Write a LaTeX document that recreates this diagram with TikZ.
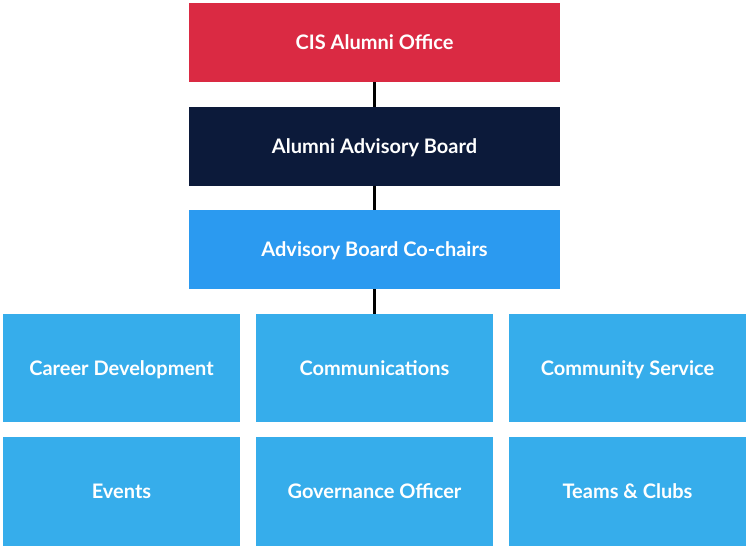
\documentclass[tikz,border=0pt]{standalone}
\usepackage{fontspec}
\setmainfont{Lato}
\definecolor{officered}{HTML}{DA2A43}
\definecolor{boardnavy}{HTML}{0C1A3A}
\definecolor{chairblue}{HTML}{2B9AF0}
\definecolor{teamblue}{HTML}{36ADEB}
\tikzset{
  unit/.style={fill=#1, text=white, inner sep=0pt, outer sep=0pt,
    text height=14pt, text depth=0pt,
    font=\fontsize{20}{24}\selectfont\bfseries},
  topunit/.style={unit=#1, minimum width=371pt, minimum height=79pt},
  team/.style={unit=teamblue, minimum width=237pt, minimum height=108.5pt},
  link/.style={line width=2.6pt, black}
}
\begin{document}
\begin{tikzpicture}[x=1pt,y=-1pt]
\useasboundingbox (0,0) rectangle (749,549);

\node[topunit=officered] (office) at (374.5,42.5) {CIS Alumni Office};
\node[topunit=boardnavy] (board) at (374.5,146) {Alumni Advisory Board};
\node[topunit=chairblue] (chairs) at (374.5,249.5) {Advisory Board Co-chairs};

\node[team] (career) at (121.5,368) {Career Development};
\node[team] (comms) at (374.5,368) {Communications};
\node[team] (service) at (627.5,368) {Community Service};
\node[team] (events) at (121.5,491.5) {Events};
\node[team] (governance) at (374.5,491.5) {Governance Officer};
\node[team] (clubs) at (627.5,491.5) {Teams \& Clubs};

\draw[link] (office) -- (board);
\draw[link] (board) -- (chairs);
\draw[link] (chairs) -- (comms);
\end{tikzpicture}
\end{document}
